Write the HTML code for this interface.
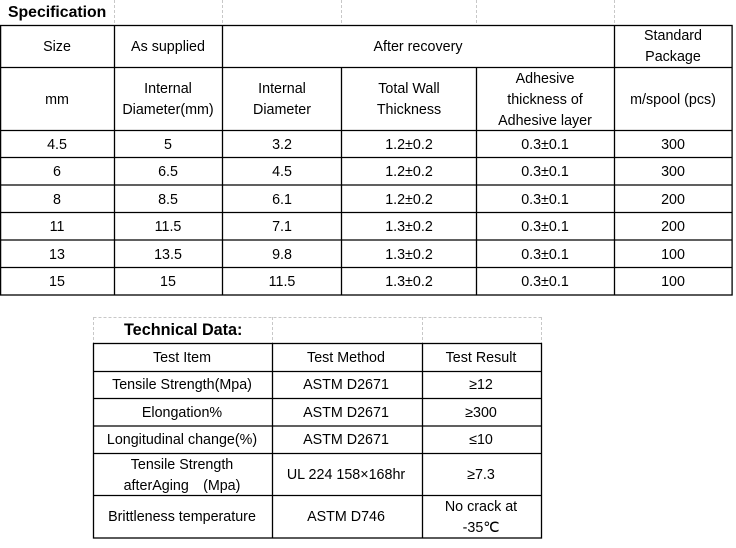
<!DOCTYPE html>
<html><head><meta charset="utf-8"><style>
html,body{margin:0;padding:0;background:#fff;}
svg text{font-family:"Liberation Sans",Arial,sans-serif;font-size:14.3px;fill:#000;}
</style></head><body>
<svg width="736" height="543" viewBox="0 0 736 543" xmlns="http://www.w3.org/2000/svg">
<g stroke="#c8c8c8" stroke-dasharray="3,2" stroke-width="1">
<line x1="114.5" y1="0" x2="114.5" y2="25"/>
<line x1="222.5" y1="0" x2="222.5" y2="25"/>
<line x1="341.5" y1="0" x2="341.5" y2="25"/>
<line x1="476.5" y1="0" x2="476.5" y2="25"/>
<line x1="614.5" y1="0" x2="614.5" y2="25"/>
<line x1="93.5" y1="317.5" x2="541.5" y2="317.5"/>
<line x1="93.5" y1="317" x2="93.5" y2="343"/>
<line x1="272.5" y1="317" x2="272.5" y2="343"/>
<line x1="422.5" y1="317" x2="422.5" y2="343"/>
<line x1="541.5" y1="317" x2="541.5" y2="343"/>
</g>
<g stroke="#000" stroke-width="1.3" fill="none">
<rect x="0.6" y="25.5" width="731.5" height="269.5"/>
<line x1="0" y1="67.5" x2="732" y2="67.5"/>
<line x1="0" y1="130.5" x2="732" y2="130.5"/>
<line x1="0" y1="157.5" x2="732" y2="157.5"/>
<line x1="0" y1="185" x2="732" y2="185"/>
<line x1="0" y1="212.5" x2="732" y2="212.5"/>
<line x1="0" y1="240" x2="732" y2="240"/>
<line x1="0" y1="267.5" x2="732" y2="267.5"/>
<line x1="114.5" y1="25" x2="114.5" y2="295"/>
<line x1="222.5" y1="25" x2="222.5" y2="295"/>
<line x1="341.5" y1="67" x2="341.5" y2="295"/>
<line x1="476.5" y1="67" x2="476.5" y2="295"/>
<line x1="614.5" y1="25" x2="614.5" y2="295"/>
<rect x="93.5" y="343.5" width="448" height="194.5"/>
<line x1="93" y1="371.5" x2="541" y2="371.5"/>
<line x1="93" y1="398.5" x2="541" y2="398.5"/>
<line x1="93" y1="426" x2="541" y2="426"/>
<line x1="93" y1="453.5" x2="541" y2="453.5"/>
<line x1="93" y1="495.5" x2="541" y2="495.5"/>
<line x1="272.5" y1="343" x2="272.5" y2="538"/>
<line x1="422.5" y1="343" x2="422.5" y2="538"/>
</g>
<text x="8" y="17" style="font-weight:bold;font-size:15.8px">Specification</text>
<g text-anchor="middle">
<text x="57" y="51">Size</text>
<text x="168" y="51">As supplied</text>
<text x="418" y="51">After recovery</text>
<text x="673" y="40">Standard</text>
<text x="673" y="61">Package</text>
<text x="57" y="104">mm</text>
<text x="168" y="93">Internal</text>
<text x="168" y="114">Diameter(mm)</text>
<text x="282" y="93">Internal</text>
<text x="282" y="114">Diameter</text>
<text x="409" y="93">Total Wall</text>
<text x="409" y="114">Thickness</text>
<text x="545" y="83">Adhesive</text>
<text x="545" y="104">thickness of</text>
<text x="545" y="125">Adhesive layer</text>
<text x="673" y="104">m/spool (pcs)</text>
</g>
<g text-anchor="middle">
<text x="57" y="149">4.5</text><text x="168" y="149">5</text><text x="282" y="149">3.2</text><text x="409" y="149">1.2±0.2</text><text x="545" y="149">0.3±0.1</text><text x="673" y="149">300</text>
<text x="57" y="176">6</text><text x="168" y="176">6.5</text><text x="282" y="176">4.5</text><text x="409" y="176">1.2±0.2</text><text x="545" y="176">0.3±0.1</text><text x="673" y="176">300</text>
<text x="57" y="204">8</text><text x="168" y="204">8.5</text><text x="282" y="204">6.1</text><text x="409" y="204">1.2±0.2</text><text x="545" y="204">0.3±0.1</text><text x="673" y="204">200</text>
<text x="57" y="231">11</text><text x="168" y="231">11.5</text><text x="282" y="231">7.1</text><text x="409" y="231">1.3±0.2</text><text x="545" y="231">0.3±0.1</text><text x="673" y="231">200</text>
<text x="57" y="259">13</text><text x="168" y="259">13.5</text><text x="282" y="259">9.8</text><text x="409" y="259">1.3±0.2</text><text x="545" y="259">0.3±0.1</text><text x="673" y="259">100</text>
<text x="57" y="286">15</text><text x="168" y="286">15</text><text x="282" y="286">11.5</text><text x="409" y="286">1.3±0.2</text><text x="545" y="286">0.3±0.1</text><text x="673" y="286">100</text>
</g>
<text x="124" y="335" style="font-weight:bold;font-size:16.2px">Technical Data:</text>
<g text-anchor="middle">
<text x="182" y="362">Test Item</text><text x="346" y="362">Test Method</text><text x="481" y="362">Test Result</text>
<text x="182" y="389">Tensile Strength(Mpa)</text><text x="346" y="389">ASTM D2671</text><text x="481" y="389">≥12</text>
<text x="182" y="417">Elongation%</text><text x="346" y="417">ASTM D2671</text><text x="481" y="417">≥300</text>
<text x="182" y="444">Longitudinal change(%)</text><text x="346" y="444">ASTM D2671</text><text x="481" y="444">≤10</text>
<text x="182" y="469">Tensile Strength</text>
<text x="182" y="490">afterAging　(Mpa)</text>
<text x="346" y="479">UL 224 158×168hr</text><text x="481" y="479">≥7.3</text>
<text x="182" y="521">Brittleness temperature</text><text x="346" y="521">ASTM D746</text>
<text x="481" y="511">No crack at</text><text x="481" y="532">-35℃</text>
</g>
</svg>
</body></html>
